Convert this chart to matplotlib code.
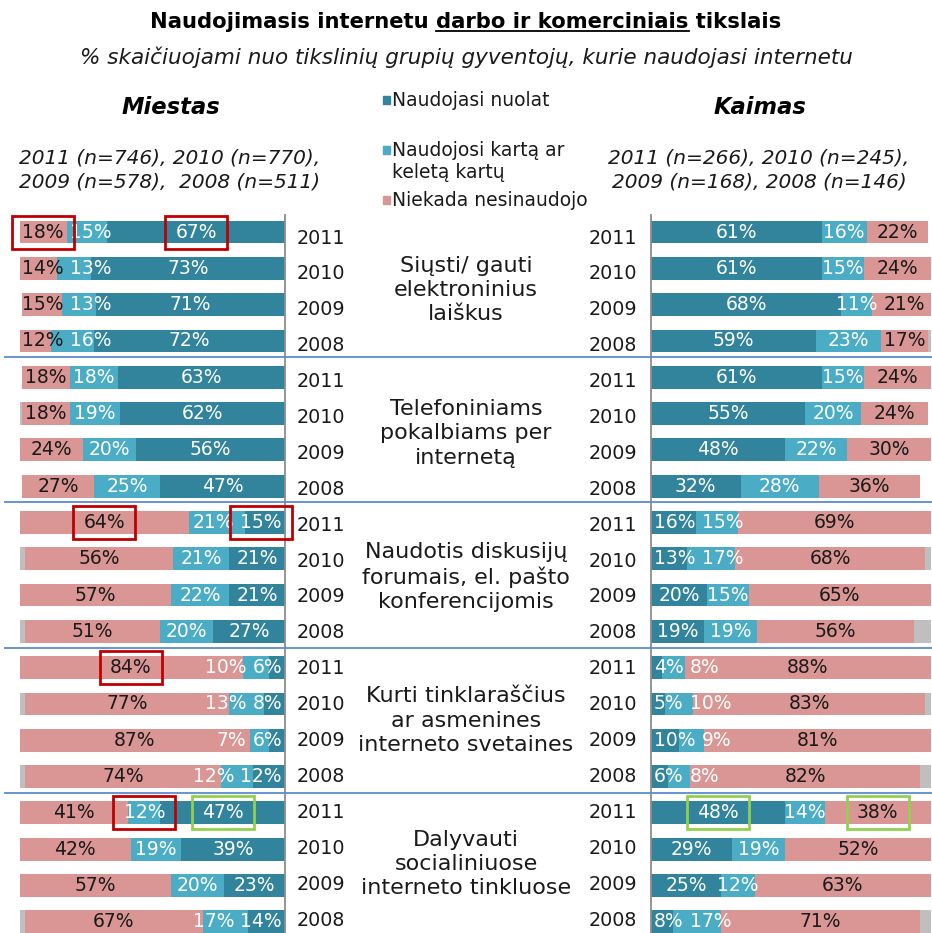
import matplotlib
matplotlib.use("Agg")
import numpy as np
import matplotlib.pyplot as plt
import matplotlib.transforms as mtransforms
from matplotlib.patches import Rectangle
from matplotlib.lines import Line2D

# ---------------------------------------------------------------- data
years = ["2011", "2010", "2009", "2008"]
activities = [
    "Siųsti/ gauti\nelektroninius\nlaiškus",
    "Telefoniniams\npokalbiams per\ninternetą",
    "Naudotis diskusijų\nforumais, el. pašto\nkonferencijomis",
    "Kurti tinklaraščius\nar asmenines\ninterneto svetaines",
    "Dalyvauti\nsocialiniuose\ninterneto tinkluose",
]
series_names = ["Naudojasi nuolat", "Naudojosi kartą ar\nkeletą kartų", "Niekada nesinaudojo"]

# rows: activity by activity, years 2011 -> 2008
city_regular = [67, 73, 71, 72, 63, 62, 56, 47, 15, 21, 21, 27, 6, 8, 6, 12, 47, 39, 23, 14]
city_once = [15, 13, 13, 16, 18, 19, 20, 25, 21, 21, 22, 20, 10, 13, 7, 12, 12, 19, 20, 17]
city_never = [18, 14, 15, 12, 18, 18, 24, 27, 64, 56, 57, 51, 84, 77, 87, 74, 41, 42, 57, 67]
city_other = [0, 0, 0, 0, 0, 1, 0, 0, 0, 2, 0, 2, 0, 2, 0, 2, 0, 0, 0, 2]

village_regular = [61, 61, 68, 59, 61, 55, 48, 32, 16, 13, 20, 19, 4, 5, 10, 6, 48, 29, 25, 8]
village_once = [16, 15, 11, 23, 15, 20, 22, 28, 15, 17, 15, 19, 8, 10, 9, 8, 14, 19, 12, 17]
village_never = [22, 24, 21, 17, 24, 24, 30, 36, 69, 68, 65, 56, 88, 83, 81, 82, 38, 52, 63, 71]
village_other = [0, 0, 0, 1, 0, 0, 0, 0, 0, 2, 0, 6, 0, 2, 0, 4, 0, 0, 0, 4]

city_title = "Miestas"
village_title = "Kaimas"
city_samples = "2011 (n=746), 2010 (n=770),\n2009 (n=578),  2008 (n=511)"
village_samples = "2011 (n=266), 2010 (n=245),\n2009 (n=168), 2008 (n=146)"

# highlighted labels: (panel, row, segment, colour)
highlights = [
    ("city", 0, 2, "#C00000"), ("city", 0, 0, "#C00000"),
    ("city", 8, 2, "#C00000"), ("city", 8, 0, "#C00000"),
    ("city", 12, 2, "#C00000"),
    ("city", 16, 1, "#C00000"), ("city", 16, 0, "#92D050"),
    ("village", 16, 0, "#92D050"), ("village", 16, 2, "#92D050"),
]

# ---------------------------------------------------------------- style
colors = ["#31849B", "#4BACC6", "#D99694", "#BFBFBF"]
label_colors = ["white", "white", "#1A1A1A"]
text_color = "#1A1A1A"
plt.rcParams["font.family"] = ["DejaVu Sans"]

W, H = 932, 933
fig = plt.figure(figsize=(W / 100, H / 100), dpi=100)
renderer = fig.canvas.get_renderer()


def fx(px):
    return px / W


def fy(py):
    return 1 - py / H


def axes_px(x0, x1, y0, y1):
    return fig.add_axes([fx(x0), fy(y1), (x1 - x0) / W, (y1 - y0) / H])


ROW_TOP, ROW_BOTTOM = -0.47, 19.31
BAR_H = 0.63
LABEL_SIZE = 13.5
YEAR_TOP, YEAR_STEP = 238, 35.9   # text rows of the middle column, in pixels

ax_city = axes_px(19.5, 285, 215, 933)
ax_vill = axes_px(651, 931, 215, 933)


def draw_panel(ax, regular, once, never, other, inverted):
    rows = np.arange(len(regular))
    segs = [np.asarray(s, float) for s in (regular, once, never, other)]
    left = np.zeros(len(rows))
    starts = []
    for vals, col in zip(segs, colors):
        starts.append(left.copy())
        ax.barh(rows, vals, left=left, height=BAR_H, color=col, linewidth=0)
        left = left + vals
    ax.set_xlim((100, 0) if inverted else (0, 100))
    ax.set_ylim(ROW_BOTTOM, ROW_TOP)
    ax.set_xticks([])
    ax.set_yticks([])
    for side in ("top", "bottom", "left", "right"):
        ax.spines[side].set_visible(False)
    spine = ax.spines["right" if inverted else "left"]
    spine.set_visible(True)
    spine.set_color("#8C8C8C")
    spine.set_linewidth(1.3)

    px_per_unit = ax.get_position().width * W / 100
    positions = {}
    for i in rows:
        texts, centers, widths = [], [], []
        for k in range(3):
            v = segs[k][i]
            t = ax.text(starts[k][i] + v / 2, i, f"{int(v)}%", ha="center", va="center",
                        fontsize=LABEL_SIZE, color=label_colors[k])
            bb = t.get_window_extent(renderer)
            texts.append(t)
            centers.append(starts[k][i] + v / 2)
            widths.append((bb.width + 6) / px_per_unit)
        # keep labels apart and inside the plotting area
        pos = list(centers)
        pos[0] = max(pos[0], widths[0] / 2)
        for k in range(1, 3):
            pos[k] = max(pos[k], pos[k - 1] + (widths[k - 1] + widths[k]) / 2)
        pos[2] = min(pos[2], 100 - widths[2] / 2)
        for k in (1, 0):
            pos[k] = min(pos[k], pos[k + 1] - (widths[k] + widths[k + 1]) / 2)
        for k in range(3):
            texts[k].set_x(pos[k])
            positions[(i, k)] = pos[k]
    return positions, px_per_unit


pos_city, scale_city = draw_panel(ax_city, city_regular, city_once, city_never, city_other, True)
pos_vill, scale_vill = draw_panel(ax_vill, village_regular, village_once, village_never, village_other, False)

# highlight frames around selected labels
for panel, row, seg, col in highlights:
    ax, pos, scale = (ax_city, pos_city, scale_city) if panel == "city" else (ax_vill, pos_vill, scale_vill)
    w = 62 / scale
    ax.add_patch(Rectangle((pos[(row, seg)] - w / 2, row - 0.455), w, 0.91, fill=False,
                           edgecolor=col, linewidth=2.0, clip_on=False, zorder=5))

# year labels and activity names in the middle column
for i in range(len(city_regular)):
    yl = years[i % 4]
    ypx = YEAR_TOP + YEAR_STEP * i
    fig.text(fx(297), fy(ypx), yl, ha="left", va="center", fontsize=13.8, color=text_color)
    fig.text(fx(637), fy(ypx), yl, ha="right", va="center", fontsize=13.8, color=text_color)
for g, name in enumerate(activities):
    ypx = YEAR_TOP + YEAR_STEP * (4 * g + 1.5) - 2
    fig.text(fx(466), fy(ypx), name, ha="center", va="center",
             fontsize=16, color=text_color, linespacing=1.26)

# group separators
tr_mid = mtransforms.blended_transform_factory(fig.transFigure, ax_city.transData)
for g in range(1, len(activities)):
    fig.add_artist(Line2D([fx(5), fx(932)], [4 * g - 0.55] * 2, transform=tr_mid,
                          color="#5B8BD0", linewidth=1.3))

# titles
TITLE_SIZE = 15.2
title_parts = ("Naudojimasis internetu ", "darbo ir komerciniais", " tikslais")
title_full = "".join(title_parts)
tt = fig.text(0.5, fy(22), title_full, ha="center", va="center", fontsize=TITLE_SIZE,
              fontweight="bold", color="black")
bb_full = tt.get_window_extent(renderer)
probe = fig.text(0, 0, title_parts[0] + title_parts[1], fontsize=TITLE_SIZE, fontweight="bold")
w_upto = probe.get_window_extent(renderer).width
probe.set_text(title_parts[1])
w_mid = probe.get_window_extent(renderer).width
probe.remove()
u_y = bb_full.y0 + 1
fig.add_artist(Line2D([(bb_full.x0 + w_upto - w_mid) / W, (bb_full.x0 + w_upto) / W],
                      [u_y / H, u_y / H], color="black", linewidth=1.3))

fig.text(0.5, fy(57), "% skaičiuojami nuo tikslinių grupių gyventojų, kurie naudojasi internetu",
         ha="center", va="center", fontsize=15.5, style="italic", color=text_color)

fig.text(fx(171), fy(107), city_title, ha="center", va="center", fontsize=16.3,
         fontweight="bold", style="italic", color="black")
fig.text(fx(760), fy(107), village_title, ha="center", va="center", fontsize=16.3,
         fontweight="bold", style="italic", color="black")
fig.text(fx(170), fy(170), city_samples, ha="center", va="center", fontsize=14.5,
         style="italic", color=text_color, linespacing=1.35)
fig.text(fx(759), fy(170), village_samples, ha="center", va="center", fontsize=14.5,
         style="italic", color=text_color, linespacing=1.35)

# legend
legend_y = [100, 150, 200]
for name, col, y in zip(series_names, colors, legend_y):
    fig.add_artist(Rectangle((fx(383), fy(y + 4)), 7 / W, 8 / H, color=col, transform=fig.transFigure))
    fig.text(fx(392), fy(y - 9), name, ha="left", va="top", fontsize=13.5, color=text_color,
             linespacing=1.23)

fig.savefig("out.png", dpi=100)
